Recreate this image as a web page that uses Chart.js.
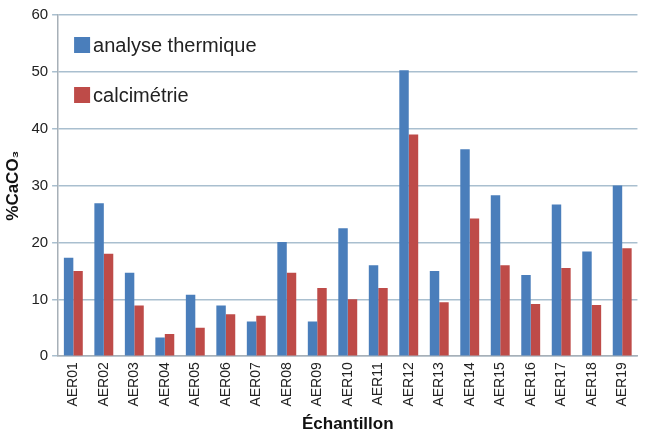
<!DOCTYPE html>
<html>
<head>
<meta charset="utf-8">
<script src="https://cdn.jsdelivr.net/npm/chart.js@4/dist/chart.umd.min.js"></script>
<style>
  html, body { margin: 0; padding: 0; background: #fff; }
  #wrap { width: 645px; height: 435px; }
</style>
</head>
<body>
<div id="wrap"><canvas id="chart"></canvas></div>
<script>
// données
let samples = ['AER01', 'AER02', 'AER03', 'AER04', 'AER05', 'AER06', 'AER07', 'AER08', 'AER09', 'AER10',
    'AER11', 'AER12', 'AER13', 'AER14', 'AER15', 'AER16', 'AER17', 'AER18', 'AER19'];
let thermique = [17.3, 26.9, 14.7, 3.3, 10.8, 8.9, 6.1, 20.1, 6.1, 22.5, 16.0, 50.3, 15.0, 36.4, 28.3, 14.3, 26.7, 18.4, 30.0];
let calcimetrie = [15.0, 18.0, 8.9, 3.9, 5.0, 7.4, 7.1, 14.7, 12.0, 10.0, 12.0, 39.0, 9.5, 24.2, 16.0, 9.2, 15.5, 9.0, 19.0];
let yTicks = [0, 10, 20, 30, 40, 50, 60];

const BLUE = '#4a7ebb';
const RED = '#be4b48';
const FONT = "'Liberation Sans', Arial, sans-serif";

// légende dessinée dans la zone du graphique
const innerLegend = {
    id: 'innerLegend',
    afterDraw(chart) {
        let ctx = chart.ctx;
        let x = chart.chartArea.left + 16;
        let y0 = chart.chartArea.top + 30;
        ctx.save();
        ctx.font = '20px ' + FONT;
        ctx.textBaseline = 'middle';
        chart.data.datasets.forEach(function (ds, i) {
            let y = y0 + i * 50;
            ctx.fillStyle = ds.backgroundColor;
            ctx.fillRect(x, y - 8, 16, 16);
            ctx.fillStyle = '#222';
            ctx.fillText(ds.label, x + 19, y + 1);
        });
        ctx.restore();
    }
};

new Chart(document.getElementById('chart'), {
    type: 'bar',
    data: {
        labels: samples,
        datasets: [{
            label: 'analyse thermique',
            data: thermique,
            backgroundColor: BLUE
        }, {
            label: 'calcimétrie',
            data: calcimetrie,
            backgroundColor: RED
        }]
    },
    options: {
        responsive: true,
        maintainAspectRatio: false,
        animation: false,
        barPercentage: 1.0,
        categoryPercentage: 0.62,
        layout: { padding: { left: 3, right: 0, top: 15, bottom: 0 } },
        plugins: {
            legend: { display: false },
            tooltip: { enabled: false }
        },
        scales: {
            x: {
                grid: { display: false, drawTicks: false },
                border: { color: '#a7b0b8', width: 1.5 },
                ticks: {
                    color: '#222',
                    font: { family: FONT, size: 14 },
                    maxRotation: 90,
                    minRotation: 90,
                    autoSkip: false,
                    padding: 6
                },
                title: {
                    display: true,
                    text: 'Échantillon',
                    color: '#111',
                    font: { family: FONT, size: 17, weight: 'bold' },
                    padding: { top: 2, bottom: 0 }
                }
            },
            y: {
                min: 0,
                max: 60,
                afterBuildTicks: function (axis) {
                    axis.ticks = yTicks.map(v => ({ value: v }));
                },
                grid: { color: '#a9bfcf', lineWidth: 1.5, drawTicks: true, tickLength: 6 },
                border: { color: '#a7b0b8', width: 1.5 },
                ticks: {
                    color: '#222',
                    font: { family: FONT, size: 15 },
                    padding: 4
                },
                title: {
                    display: true,
                    text: '%CaCO₃',
                    color: '#111',
                    font: { family: FONT, size: 17, weight: 'bold' },
                    padding: { top: 0, bottom: 4 }
                }
            }
        }
    },
    plugins: [innerLegend]
});
</script>
</body>
</html>
